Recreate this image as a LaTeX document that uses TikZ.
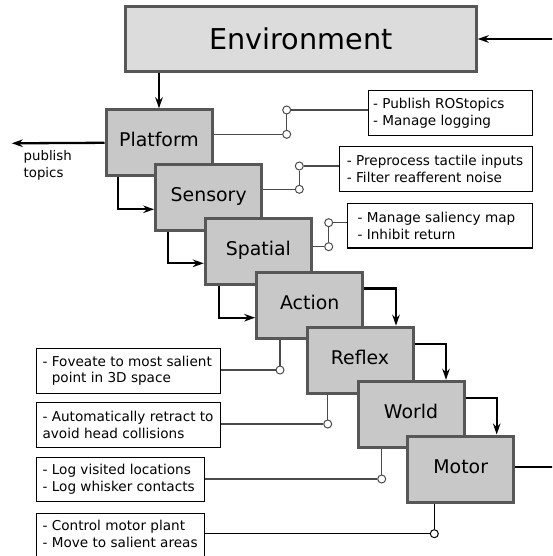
\documentclass[tikz,border=0pt]{standalone}
\usepackage{fontspec}
\setmainfont{DejaVu Sans}
\usetikzlibrary{arrows.meta,calc}
\definecolor{modfill}{HTML}{C8C8C8}
\definecolor{envfill}{HTML}{DCDCDC}
\definecolor{modedge}{HTML}{575757}
\definecolor{linkgray}{HTML}{4A4A4A}
\begin{document}
\begin{tikzpicture}[x=1pt,y=-1pt,
  module/.style={draw=modedge, fill=modfill, line width=3pt, minimum width=106pt, minimum height=66pt, inner sep=0pt,
    text height=14.4pt, text depth=6pt, font=\fontsize{18.9}{22}\selectfont},
  envbox/.style={draw=modedge, fill=envfill, line width=3pt, minimum width=350.7pt, minimum height=64.4pt, inner sep=0pt,
    font=\fontsize{28.7}{34}\selectfont},
  flow/.style={line width=2.3pt, -{Stealth[length=11pt,width=7.5pt,inset=3.5pt]}},
  infobox/.style={draw=black, line width=1.2pt, fill=white, inner sep=0pt, anchor=north west},
  infotext/.style={inner sep=0pt, align=left, anchor=west, font=\fontsize{13.6}{17.3}\selectfont},
  jn/.style={circle, draw=linkgray, fill=white, line width=1pt, minimum size=8pt, inner sep=0pt},
  link/.style={draw=linkgray, line width=1.2pt},
  linkb/.style={draw=black, line width=1.2pt}
]
\useasboundingbox (0,0) rectangle (552,556);
\clip (0,0) rectangle (552,556);

% environment
\node[envbox] (E) at (300.8,39) {Environment};

% modules
\node[module] (P)  at (159.0,142.8) {Platform};
\node[module] (S)  at (208.7,197.2) {Sensory};
\node[module] (Sp) at (258.3,251.3) {Spatial};
\node[module] (A)  at (309.7,305.3) {Action};
\node[module] (R)  at (360.0,360.2) {Reflex};
\node[module] (W)  at (411.0,414.3) {World};
\node[module] (M)  at (460.7,469.0) {Motor};

% outer connections
\coordinate (inR) at (556,39);
\coordinate (outR) at (556,466.7);
\coordinate (pub) at (11.7,143.3);
\draw[flow] (inR) -- (E.east |- inR);
\draw[flow] (E.south -| P.north) -- (P.north);
\draw[flow] (P.west) -- (pub);
\draw[line width=2.3pt] (M.east |- outR) -- (outR);
\node[inner sep=0pt, align=left, anchor=west, font=\fontsize{13.3}{16.7}\selectfont] (pubtxt) at (23.5,165) {publish\\topics};

% flow between modules
\draw[flow] ([xshift=-41.3pt]P.south) |- ([yshift=-12.1pt]S.west);
\draw[flow] ([xshift=-40.4pt]S.south) |- ([yshift=-12pt]Sp.west);
\draw[flow] ([xshift=-39.3pt]Sp.south) |- ([yshift=-12.4pt]A.west);
\draw[flow] ([yshift=16.7pt]A.east) -| ([xshift=36pt]R.north);
\draw[flow] ([yshift=16.5pt]R.east) -| ([xshift=35pt]W.north);
\draw[flow] ([yshift=16.6pt]W.east) -| ([xshift=36pt]M.north);

% info boxes
\node[infobox, minimum width=164.3pt, minimum height=45pt] (b1) at (367.7,90) {};
\node[infotext] (t1) at ([xshift=5.2pt]b1.west) {- Publish ROStopics\\- Manage logging};
\node[infobox, minimum width=193.3pt, minimum height=45pt] (b2) at (338.7,145.7) {};
\node[infotext] (t2) at ([xshift=8pt]b2.west) {- Preprocess tactile inputs\\- Filter reafferent noise};
\node[infobox, minimum width=185pt, minimum height=44.6pt] (b3) at (347,202.7) {};
\node[infotext] (t3) at ([xshift=10.4pt]b3.west) {- Manage saliency map\\- Inhibit return};
\node[infobox, minimum width=184pt, minimum height=45pt] (b4) at (36,347.7) {};
\node[infotext, font=\fontsize{13.6}{16}\selectfont] (t4) at ([xshift=6.4pt]b4.west) {- Foveate to most salient\\\hphantom{- }point in 3D space};
\node[infobox, minimum width=184pt, minimum height=45pt] (b5) at (36,402) {};
\node[infotext] (t5) at ([xshift=6.4pt]b5.west) {- Automatically retract to\\avoid head collisions};
\node[infobox, minimum width=168pt, minimum height=44.3pt] (b6) at (36,456.7) {};
\node[infotext] (t6) at ([xshift=6.4pt]b6.west) {- Log visited locations\\- Log whisker contacts};
\node[infobox, minimum width=168pt, minimum height=46pt] (b7) at (36,512.7) {};
\node[infotext, font=\fontsize{13.6}{17.4}\selectfont] (t7) at (42.4,534) {- Control motor plant\\- Move to salient areas};

% junctions
\node[jn] (c1a) at (286.7,134.3) {};
\node[jn] (c1b) at (286.7,110) {};
\node[jn] (c2a) at (299.3,189.3) {};
\node[jn] (c2b) at (299.3,166) {};
\node[jn] (c3a) at (328.7,246.7) {};
\node[jn] (c3b) at (328.7,222.7) {};
\node[jn] (c4) at (280,370) {};
\node[jn] (c5) at (327.7,424) {};
\node[jn] (c6) at (381.7,479) {};
\node[jn, draw=black] (c7) at (434.3,533.7) {};

% links
\draw[link] (P.east |- c1a) -- (c1a);
\draw[link] (c1a) -- (c1b);
\draw[link] (c1b) -- (b1.west |- c1b);
\draw[link] (S.east |- c2a) -- (c2a);
\draw[link] (c2a) -- (c2b);
\draw[link] (c2b) -- (b2.west |- c2b);
\draw[link] (Sp.east |- c3a) -- (c3a);
\draw[link] (c3a) -- (c3b);
\draw[link] (c3b) -- (b3.west |- c3b);
\draw[link] (A.south -| c4) -- (c4);
\draw[link] (c4) -- (b4.east |- c4);
\draw[link] (R.south -| c5) -- (c5);
\draw[link] (c5) -- (b5.east |- c5);
\draw[link] (W.south -| c6) -- (c6);
\draw[link] (c6) -- (b6.east |- c6);
\draw[linkb] (M.south -| c7) -- (c7);
\draw[linkb] (c7) -- (b7.east |- c7);
\end{tikzpicture}
\end{document}
